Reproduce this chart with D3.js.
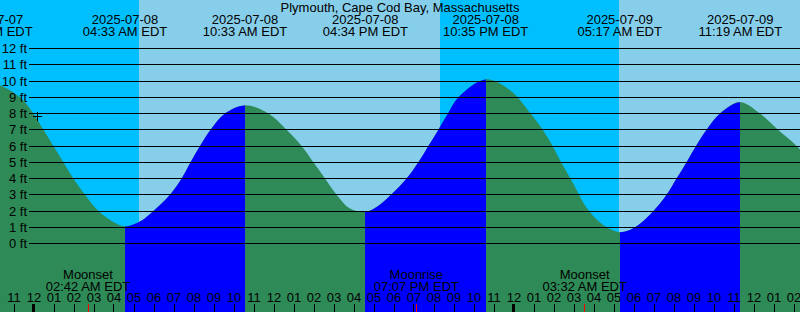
<!DOCTYPE html>
<html>
<head>
<meta charset="utf-8">
<script src="https://cdn.jsdelivr.net/npm/d3@7"></script>
<style>
  body { margin: 0; background: #fff; }
  svg { display: block; font-family: "Liberation Sans", Arial, sans-serif; }
</style>
</head>
<body>
<svg width="800" height="312"></svg>
<script>
// Datos
const title = "Plymouth, Cape Cod Bay, Massachusetts";

// pleamares y bajamares
const tideDates = ["2025-07-07", "2025-07-08", "2025-07-08", "2025-07-08", "2025-07-08", "2025-07-09", "2025-07-09"];
const tideTimes = ["09:48 PM", "04:33 AM", "10:33 AM", "04:34 PM", "10:35 PM", "05:17 AM", "11:19 AM"];
const tideFeet = [9.9, 1.05, 8.5, 1.95, 10.1, 0.7, 8.7];

// lecturas de la curva entre extremos (horas desde 2025-07-08 00:00, pies)
const curveHours = [-1.7, -0.7, -0.03, 0.47, 0.97, 1.47, 1.97, 2.55, 3.22, 3.97,
  5.3, 5.97, 6.8, 7.38, 7.83, 8.3, 8.83, 9.55,
  11.72, 12.63, 13.38, 13.97, 14.55, 15.13, 15.8,
  17.13, 17.85, 18.63, 19.22, 19.72, 20.22, 20.7, 21.22,
  23.84, 24.86, 25.69, 26.33, 26.98, 27.63, 28.43,
  30.05, 30.97, 31.63, 32.13, 32.63, 33.1, 33.63, 34.3,
  36.3, 37.2, 38.13, 39.3];
const curveFeet = [9.74, 9.0, 8.0, 7.0, 6.0, 5.0, 4.0, 3.0, 2.0, 1.33,
  1.35, 2.0, 3.0, 4.0, 5.0, 6.0, 7.0, 8.0,
  8.0, 7.0, 6.0, 5.0, 4.0, 3.0, 2.15,
  2.25, 3.0, 4.0, 5.0, 6.0, 7.0, 8.0, 9.0,
  9.39, 7.95, 6.51, 5.08, 3.64, 2.2, 1.17,
  1.0, 2.0, 3.0, 4.0, 5.0, 6.0, 7.0, 8.0,
  8.0, 7.0, 6.0, 4.4];

const sunrises = ["2025-07-08 05:15 AM", "2025-07-09 05:15 AM"];
const sunsets = ["2025-07-08 08:18 PM", "2025-07-09 08:18 PM"];

const moonNames = ["Moonset", "Moonrise", "Moonset"];
const moonTimes = ["2025-07-08 02:42 AM", "2025-07-08 07:07 PM", "2025-07-09 03:32 AM"];

const depthTicks = d3.range(0, 13);

// marca de "ahora"
const nowTime = "2025-07-08 12:10 AM", nowFeet = 7.8;

const svg = d3.select("svg"),
  width = +svg.attr("width"),
  height = +svg.attr("height");

const parse = d3.timeParse("%Y-%m-%d %I:%M %p");
const base = new Date(2025, 6, 8);
const atHour = h => new Date(base.getTime() + h * 3600e3);

const x = d3.scaleTime()
  .domain([atHour(-1.7), atHour(38.3)])
  .range([0, width]);
const y = d3.scaleLinear()
  .domain([0, 12])
  .range([243.5, 48.5]);

const crisp = v => Math.floor(v) + 0.5;

// cielo: noche de fondo, dia encima
svg.append("rect").attr("width", width).attr("height", height).attr("fill", "#00bfff");
svg.selectAll("rect.day")
  .data(sunrises.map((d, i) => [parse(d), parse(sunsets[i])]))
  .enter().append("rect")
  .attr("class", "day")
  .attr("x", d => Math.round(x(d[0])))
  .attr("width", d => Math.min(width, Math.round(x(d[1]))) - Math.round(x(d[0])))
  .attr("y", 0)
  .attr("height", height)
  .attr("fill", "#87ceeb");

// agua
const extremes = tideDates.map((d, i) => ({ t: parse(d + " " + tideTimes[i]), ft: tideFeet[i], label: [d, tideTimes[i] + " EDT"] }));
const points = extremes.map(d => ({ t: d.t, ft: d.ft }))
  .concat(curveHours.map((h, i) => ({ t: atHour(h), ft: curveFeet[i] })))
  .sort((a, b) => a.t - b.t);

const area = d3.area()
  .x(d => x(d.t))
  .y0(height)
  .y1(d => y(d.ft))
  .curve(d3.curveCatmullRom.alpha(0.5));

// tramos de subida (bajamar -> pleamar)
const rising = [];
extremes.forEach((d, i) => {
  if (i + 1 < extremes.length && extremes[i + 1].ft > d.ft) rising.push([d.t, extremes[i + 1].t]);
});

svg.append("clipPath").attr("id", "rise")
  .selectAll("rect").data(rising).enter().append("rect")
  .attr("x", d => Math.round(x(d[0])))
  .attr("width", d => Math.round(x(d[1])) - Math.round(x(d[0])))
  .attr("y", 0).attr("height", height);

svg.append("path").datum(points).attr("d", area).attr("fill", "#2e8b57");
svg.append("path").datum(points).attr("d", area).attr("fill", "#0000ff").attr("clip-path", "url(#rise)");

// lineas de profundidad
svg.selectAll("line.depth")
  .data(depthTicks).enter().append("line")
  .attr("class", "depth")
  .attr("x1", 29).attr("x2", width)
  .attr("y1", d => crisp(y(d))).attr("y2", d => crisp(y(d)))
  .attr("stroke", "#000").attr("stroke-width", 1);

svg.selectAll("text.depth")
  .data(depthTicks).enter().append("text")
  .attr("class", "depth")
  .attr("x", 27).attr("y", d => y(d) + 4.5)
  .attr("text-anchor", "end")
  .attr("font-size", 13)
  .text(d => d + " ft");

// titulo y etiquetas de mareas
svg.append("text")
  .attr("x", width / 2).attr("y", 12)
  .attr("text-anchor", "middle").attr("font-size", 13)
  .text(title);

const tl = svg.selectAll("g.tide").data(extremes).enter().append("g")
  .attr("class", "tide")
  .attr("transform", d => "translate(" + x(d.t) + ",0)");
tl.append("text").attr("y", 23.5).attr("text-anchor", "middle").attr("font-size", 13).text(d => d.label[0]);
tl.append("text").attr("y", 36).attr("text-anchor", "middle").attr("font-size", 13).text(d => d.label[1]);

// marca de ahora
const nx = x(parse(nowTime)), ny = y(nowFeet);
svg.append("path")
  .attr("d", "M" + (crisp(nx) - 4.5) + "," + crisp(ny) + "h9M" + crisp(nx) + "," + (crisp(ny) - 4.5) + "v9")
  .attr("stroke", "#000").attr("fill", "none");

// luna
const moon = svg.selectAll("g.moon")
  .data(moonTimes.map((d, i) => ({ t: parse(d), name: moonNames[i], time: d.slice(11) + " EDT" })))
  .enter().append("g").attr("class", "moon")
  .attr("transform", d => "translate(" + x(d.t) + ",0)");
moon.append("text").attr("y", 278.5).attr("text-anchor", "middle").attr("font-size", 13).text(d => d.name);
moon.append("text").attr("y", 290.5).attr("text-anchor", "middle").attr("font-size", 13).text(d => d.time);

// eje horario
const hours = x.ticks(d3.timeHour.every(1));
const fmt = d3.timeFormat("%I");
svg.selectAll("text.hour").data(hours).enter().append("text")
  .attr("class", "hour")
  .attr("x", d => x(d)).attr("y", 302)
  .attr("text-anchor", "middle").attr("font-size", 13)
  .text(d => fmt(d));

svg.selectAll("line.hour").data(hours).enter().append("line")
  .attr("class", "hour")
  .attr("x1", d => d.getHours() === 0 ? crisp(x(d)) - 1 : crisp(x(d)))
  .attr("x2", d => d.getHours() === 0 ? crisp(x(d)) - 1 : crisp(x(d)))
  .attr("y1", 304).attr("y2", height)
  .attr("stroke", "#000")
  .attr("stroke-width", d => d.getHours() === 0 ? 3 : 1);

svg.selectAll("line.moon").data(moonTimes.map(parse)).enter().append("line")
  .attr("class", "moon")
  .attr("x1", d => crisp(x(d))).attr("x2", d => crisp(x(d)))
  .attr("y1", 304).attr("y2", height)
  .attr("stroke", "#ff0000");
</script>
</body>
</html>
